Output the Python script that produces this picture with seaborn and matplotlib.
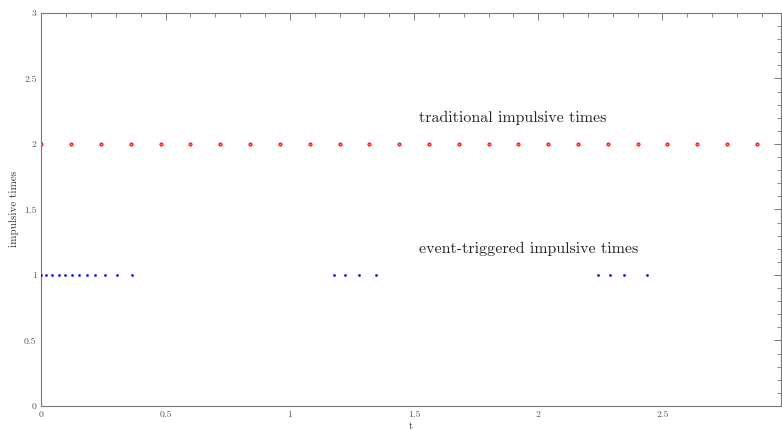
import matplotlib
matplotlib.use("Agg")
import matplotlib.pyplot as plt
from matplotlib.ticker import MultipleLocator
import seaborn as sns
import pandas as pd

traditional_t = [0.0, 0.12, 0.24, 0.36, 0.48, 0.60, 0.72, 0.84, 0.96, 1.08, 1.20, 1.32,
                 1.44, 1.56, 1.68, 1.80, 1.92, 2.04, 2.16, 2.28, 2.40, 2.52, 2.64, 2.76, 2.88]
traditional_y = [2] * len(traditional_t)

event_t = [0.0, 0.017, 0.044, 0.071, 0.096, 0.123, 0.153, 0.184, 0.217, 0.256, 0.303, 0.365,
           1.179, 1.223, 1.277, 1.347,
           2.242, 2.290, 2.347, 2.437]
event_y = [1] * len(event_t)

x_ticks = [0, 0.5, 1, 1.5, 2, 2.5]
x_tick_labels = ["0", "0.5", "1", "1.5", "2", "2.5"]
y_ticks = [0, 0.5, 1, 1.5, 2, 2.5, 3]
y_tick_labels = ["0", "0.5", "1", "1.5", "2", "2.5", "3"]

label_trad = "traditional impulsive times"
label_event = "event-triggered impulsive times"

sns.set_style("white")
plt.rcParams['font.family'] = ['cmr10', 'DejaVu Serif']
plt.rcParams['axes.formatter.use_mathtext'] = True
plt.rcParams['mathtext.fontset'] = 'cm'

fig = plt.figure(figsize=(7.82, 4.30), dpi=100)
ax = fig.add_axes([0.053, 0.056, 0.9457, 0.914])

df_trad = pd.DataFrame({"t": traditional_t, "y": traditional_y})
df_event = pd.DataFrame({"t": event_t, "y": event_y})

sns.scatterplot(data=df_trad, x="t", y="y", ax=ax, marker="o", s=5,
                facecolor="#ff8080", edgecolor="#ff0000", linewidth=0.7, zorder=3)
sns.scatterplot(data=df_event, x="t", y="y", ax=ax, marker="o", s=2.5,
                color="#0000ff", edgecolor="#0000ff", linewidth=0.3, zorder=3)

ax.text(1.52, 2.2, label_trad, fontsize=11.5, va="center", ha="left", color="#222222")
ax.text(1.52, 1.2, label_event, fontsize=11.5, va="center", ha="left", color="#222222")

ax.set_xlim(0, 2.977)
ax.set_ylim(0, 3)
ax.set_xticks(x_ticks)
ax.set_xticklabels(x_tick_labels)
ax.set_yticks(y_ticks)
ax.set_yticklabels(y_tick_labels)
ax.xaxis.set_minor_locator(MultipleLocator(0.1))
ax.yaxis.set_minor_locator(MultipleLocator(0.1))
ax.set_xlabel("t", fontsize=7.5, labelpad=2, color="#333333")
ax.set_ylabel("impulsive times", fontsize=8, labelpad=4, color="#333333")

ax.tick_params(which="both", direction="in", top=True, right=True, colors="#777777",
               labelcolor="#555555", labelsize=7)
ax.tick_params(which="major", length=5, width=0.7)
ax.tick_params(which="minor", length=3, width=0.6)
for s in ax.spines.values():
    s.set_color("#777777")
    s.set_linewidth(0.8)

fig.savefig("out.png", dpi=100)
